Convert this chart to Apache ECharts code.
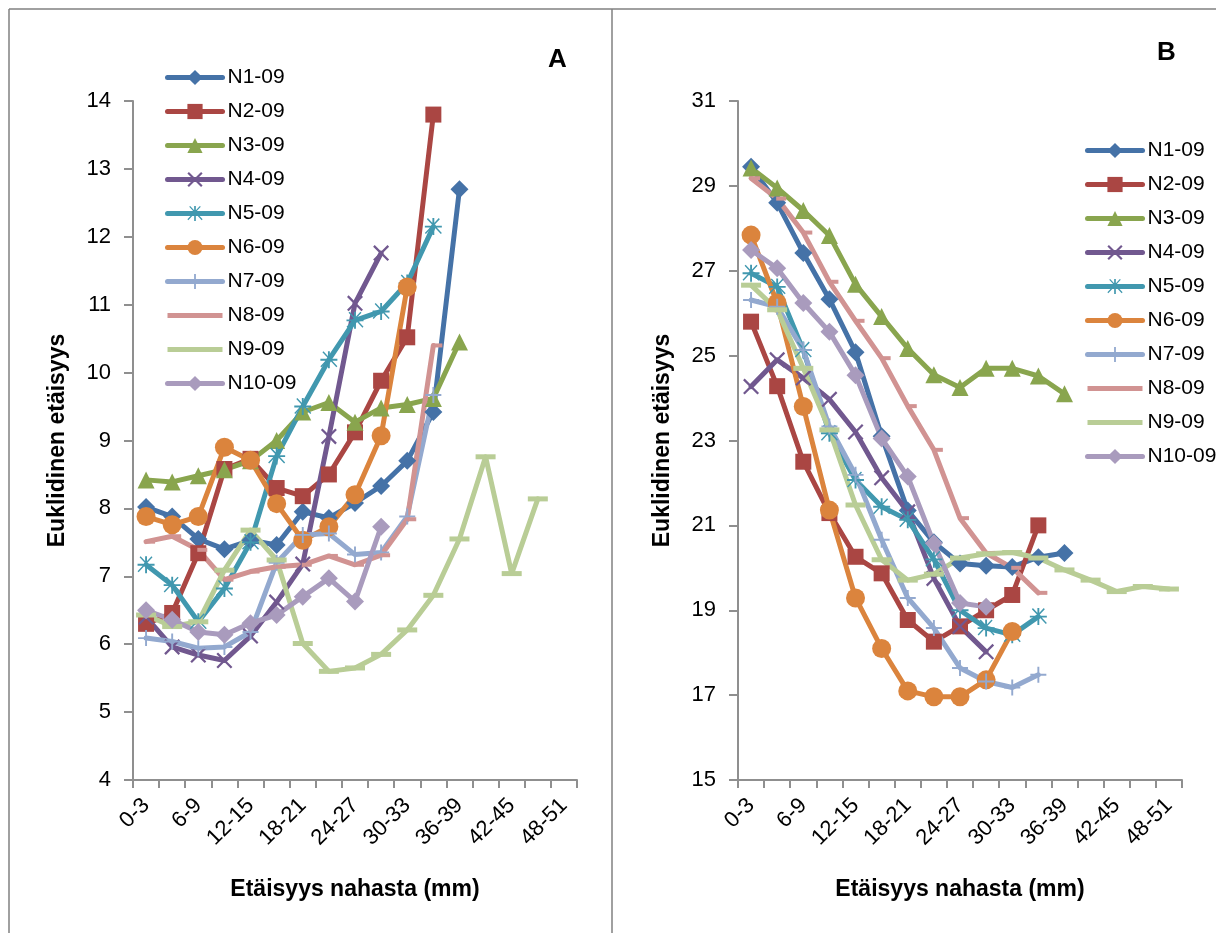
<!DOCTYPE html>
<html>
<head>
<meta charset="utf-8">
<script src="https://cdn.jsdelivr.net/npm/echarts@6/dist/echarts.min.js"></script>
<style>html,body{margin:0;padding:0;background:#fff}#c{width:1216px;height:933px}</style>
</head>
<body>
<div id="c"></div>
<script>
// ---- data ----
const categories = ['0-3','3-6','6-9','9-12','12-15','15-18','18-21','21-24','24-27','27-30','30-33','33-36','36-39','39-42','42-45','45-48','48-51'];
const seriesNames = ['N1-09','N2-09','N3-09','N4-09','N5-09','N6-09','N7-09','N8-09','N9-09','N10-09'];
const yTicksA = [4,5,6,7,8,9,10,11,12,13,14];
const yTicksB = [15,17,19,21,23,25,27,29,31];

// Panel A
const aN1  = [8.02, 7.88, 7.55, 7.40, 7.53, 7.46, 7.95, 7.86, 8.08, 8.33, 8.70, 9.42, 12.70];
const aN2  = [6.30, 6.46, 7.34, 8.58, 8.73, 8.30, 8.18, 8.50, 9.12, 9.88, 10.52, 13.80];
const aN3  = [8.42, 8.39, 8.48, 8.57, 8.70, 9.00, 9.42, 9.56, 9.27, 9.48, 9.53, 9.62, 10.45];
const aN4  = [6.40, 5.96, 5.84, 5.76, 6.12, 6.62, 7.18, 9.06, 11.02, 11.76];
const aN5  = [7.17, 6.87, 6.33, 6.82, 7.50, 8.77, 9.50, 10.19, 10.77, 10.90, 11.32, 12.15];
const aN6  = [7.88, 7.76, 7.88, 8.90, 8.71, 8.07, 7.53, 7.73, 8.20, 9.07, 11.26];
const aN7  = [6.09, 6.04, 5.94, 5.96, 6.18, 7.20, 7.61, 7.63, 7.32, 7.35, 7.88, 9.67];
const aN8  = [7.51, 7.59, 7.39, 6.95, 7.07, 7.14, 7.17, 7.30, 7.17, 7.31, 7.84, 10.40];
const aN9  = [6.43, 6.26, 6.33, 7.09, 7.68, 7.24, 6.01, 5.60, 5.65, 5.85, 6.21, 6.72, 7.55, 8.76, 7.04, 8.14];
const aN10 = [6.50, 6.36, 6.18, 6.14, 6.31, 6.43, 6.70, 6.97, 6.63, 7.73];

// Panel B
const bN1  = [29.45, 28.60, 27.42, 26.33, 25.08, 23.10, 21.35, 20.60, 20.10, 20.05, 20.02, 20.25, 20.35];
const bN2  = [25.80, 24.28, 22.50, 21.29, 20.26, 19.87, 18.77, 18.26, 18.62, 19.00, 19.36, 21.00];
const bN3  = [29.42, 28.95, 28.42, 27.83, 26.68, 25.92, 25.17, 24.55, 24.25, 24.70, 24.70, 24.52, 24.10];
const bN4  = [24.27, 24.90, 24.47, 23.97, 23.20, 22.12, 21.32, 19.75, 18.62, 18.02];
const bN5  = [26.94, 26.62, 25.13, 23.17, 22.07, 21.44, 21.13, 20.20, 19.00, 18.58, 18.42, 18.85];
const bN6  = [27.84, 26.24, 23.80, 21.36, 19.29, 18.10, 17.10, 16.96, 16.96, 17.36, 18.50];
const bN7  = [26.31, 26.15, 25.13, 23.33, 22.19, 20.66, 19.29, 18.58, 17.64, 17.32, 17.18, 17.48];
const bN8  = [29.18, 28.70, 27.90, 26.74, 25.82, 24.94, 23.81, 22.78, 21.17, 20.35, 20.00, 19.41];
const bN9  = [26.66, 26.08, 24.70, 23.25, 21.48, 20.19, 19.71, 19.85, 20.23, 20.33, 20.36, 20.23, 19.95, 19.71, 19.44, 19.56, 19.50];
const bN10 = [27.49, 27.06, 26.24, 25.56, 24.54, 23.05, 22.15, 20.58, 19.17, 19.08];

const dataA = [aN1, aN2, aN3, aN4, aN5, aN6, aN7, aN8, aN9, aN10];
const dataB = [bN1, bN2, bN3, bN4, bN5, bN6, bN7, bN8, bN9, bN10];

// ---- styles ----
const colors = ['#4572A7','#AA4643','#89A54E','#71588F','#4198AF','#DB843D','#93A9CF','#D19392','#B9CD96','#A99BBD'];
const PATH_X = 'path://M0,1L1,0L10,9L9,10Z M9,0L10,1L1,10L0,9Z';
const PATH_PLUS = 'path://M4.4,0H5.6V10H4.4Z M0,4.4H10V5.6H0Z';
const PATH_AST = 'path://M4.45,0H5.55V10H4.45Z M0,4.45H10V5.55H0Z M1.2,0.6L1.8,0L10,8.8L9.4,9.4Z M8.2,0L8.8,0.6L0.6,9.4L0,8.8Z';
const markers = [
  {symbol: 'diamond', size: 18},
  {symbol: 'rect', size: 16},
  {symbol: 'triangle', size: 17},
  {symbol: PATH_X, size: 16},
  {symbol: PATH_AST, size: 17},
  {symbol: 'circle', size: 19},
  {symbol: PATH_PLUS, size: 16},
  {symbol: 'rect', size: [10, 4], offset: [4, 0]},
  {symbol: 'rect', size: [20, 5]},
  {symbol: 'diamond', size: 18}
];
const FONT = 'Liberation Sans, Arial, sans-serif';
const AXIS_COLOR = '#8f8f8f';

function makeSeries(arrs, axisIndex) {
  return arrs.map((arr, i) => ({
    name: seriesNames[i],
    type: 'line',
    xAxisIndex: axisIndex,
    yAxisIndex: axisIndex,
    data: arr,
    symbol: markers[i].symbol,
    symbolSize: markers[i].size,
    symbolOffset: markers[i].offset || [0, 0],
    showAllSymbol: true,
    lineStyle: {color: colors[i], width: 5, cap: 'round', join: 'round'},
    itemStyle: {color: colors[i], borderWidth: 0},
    emphasis: {disabled: true},
    animation: false
  }));
}

const legendData = seriesNames.map((n, i) =>
  (i === 7 || i === 8) ? {name: n, icon: 'path://M0,0H55V5H0Z'} : {name: n});

function legendAt(left, top) {
  return {
    left: left, top: top, orient: 'vertical',
    itemWidth: 55, itemHeight: 19, itemGap: 13, itemTextGap: 4,
    selectedMode: false,
    data: legendData,
    lineStyle: {width: 5},
    textStyle: {fontSize: 21, fontFamily: FONT, color: '#000'}
  };
}

function xAxisCfg(gridIndex) {
  return {
    type: 'category', gridIndex: gridIndex, data: categories, boundaryGap: true,
    axisLine: {lineStyle: {color: AXIS_COLOR, width: 2}},
    axisTick: {show: true, interval: 0, length: 8, lineStyle: {color: AXIS_COLOR, width: 2}},
    axisLabel: {interval: 1, rotate: 45, fontSize: 22, fontFamily: FONT, color: '#000', margin: 22},
    splitLine: {show: false},
    name: 'Etäisyys nahasta (mm)', nameLocation: 'middle', nameGap: 98,
    nameTextStyle: {fontSize: 23, fontWeight: 'bold', fontFamily: FONT, color: '#000'}
  };
}
function yAxisCfg(gridIndex, ticks) {
  return {
    type: 'value', gridIndex: gridIndex,
    min: ticks[0], max: ticks[ticks.length - 1], interval: ticks[1] - ticks[0],
    axisLine: {show: true, lineStyle: {color: AXIS_COLOR, width: 2}},
    axisTick: {show: true, length: 9, lineStyle: {color: AXIS_COLOR, width: 2}},
    axisLabel: {fontSize: 22, fontFamily: FONT, color: '#000', margin: 22},
    splitLine: {show: false},
    name: 'Euklidinen etäisyys', nameLocation: 'middle', nameGap: 64, nameRotate: 90,
    nameTextStyle: {fontSize: 23, fontWeight: 'bold', fontFamily: FONT, color: '#000'}
  };
}

const chart = echarts.init(document.getElementById('c'), null, {renderer: 'canvas'});
chart.setOption({
  animation: false,
  backgroundColor: '#fff',
  grid: [
    {left: 133, top: 101, width: 444, height: 679, containLabel: false, outerBoundsMode: 'none'},
    {left: 738, top: 101, width: 444, height: 679, containLabel: false, outerBoundsMode: 'none'}
  ],
  xAxis: [xAxisCfg(0), xAxisCfg(1)],
  yAxis: [yAxisCfg(0, yTicksA), yAxisCfg(1, yTicksB)],
  legend: [legendAt(160, 62), legendAt(1080, 135)],
  graphic: [
    {type: 'line', shape: {x1: 9, y1: 9, x2: 1216, y2: 9}, style: {stroke: '#808080', lineWidth: 1.5}, silent: true},
    {type: 'line', shape: {x1: 9, y1: 9, x2: 9, y2: 933}, style: {stroke: '#808080', lineWidth: 1.5}, silent: true},
    {type: 'line', shape: {x1: 612, y1: 9, x2: 612, y2: 933}, style: {stroke: '#808080', lineWidth: 1.5}, silent: true},
    {type: 'text', left: 548, top: 47, style: {text: 'A', font: 'bold 26px ' + FONT, fill: '#000'}, silent: true},
    {type: 'text', left: 1157, top: 40, style: {text: 'B', font: 'bold 26px ' + FONT, fill: '#000'}, silent: true}
  ],
  series: makeSeries(dataA, 0).concat(makeSeries(dataB, 1))
});
</script>
</body>
</html>
